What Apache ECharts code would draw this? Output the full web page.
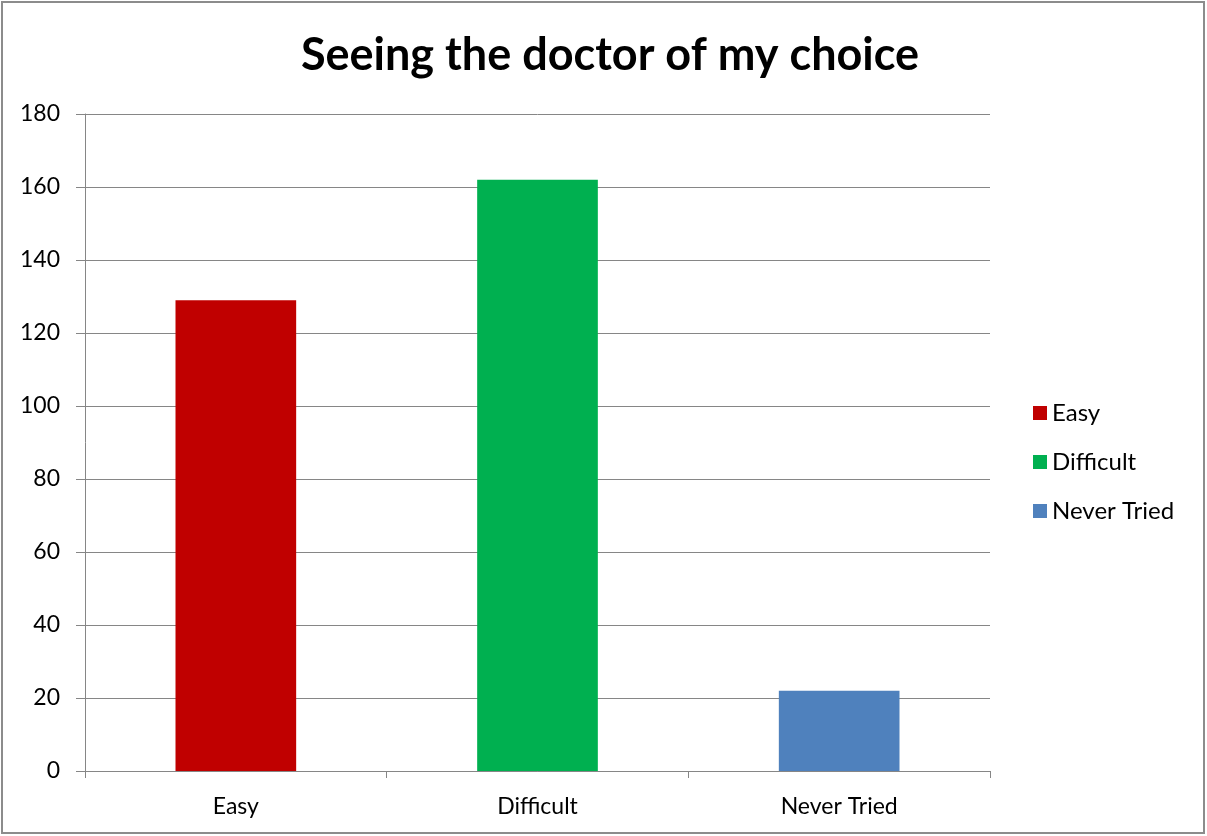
<!DOCTYPE html>
<html><head><meta charset="utf-8">
<script src="https://cdn.jsdelivr.net/npm/echarts@6/dist/echarts.min.js"></script>
<style>html,body{margin:0;padding:0;background:#fff}#c{width:1207px;height:836px}</style>
</head><body><div id="c"></div>
<script>
const categories = ['Easy', 'Difficult', 'Never Tried'];
const values = [129, 162, 22];
const colors = ['#C00000', '#00B050', '#4F81BD'];
const yTicks = [0, 20, 40, 60, 80, 100, 120, 140, 160, 180];

const chart = echarts.init(document.getElementById('c'));
const FONT = 'Lato, "Open Sans", sans-serif';
const series = categories.map((name, i) => ({
  name: name,
  type: 'bar',
  stack: 'all',
  barWidth: '40%',
  itemStyle: { color: colors[i] },
  data: categories.map((c, j) => j === i ? values[i] : '-')
}));
chart.setOption({
  animation: false,
  graphic: [{
    type: 'rect', shape: { x: 2, y: 2, width: 1202, height: 831 },
    style: { fill: 'none', stroke: '#8c8c8c', lineWidth: 2 }, silent: true
  }],
  title: {
    text: 'Seeing the doctor of my choice',
    left: 605, top: 28, textAlign: 'center',
    textStyle: { fontFamily: FONT, fontWeight: 'bold', fontSize: 45, color: '#000' }
  },
  legend: {
    orient: 'vertical', left: 1028, top: 396, itemGap: 25,
    itemWidth: 14, itemHeight: 14, icon: 'rect',
    data: categories,
    textStyle: { fontFamily: FONT, fontSize: 24, color: '#000' }
  },
  grid: { left: 85, right: 217, top: 114, bottom: 65 },
  xAxis: {
    type: 'category', data: categories,
    axisLine: { lineStyle: { color: '#868686', width: 1 } },
    axisTick: { show: true, length: 7, lineStyle: { color: '#868686' } },
    axisLabel: { fontFamily: FONT, fontSize: 23, color: '#000', margin: 24 }
  },
  yAxis: {
    type: 'value', min: yTicks[0], max: yTicks[yTicks.length - 1], interval: 20,
    axisLine: { show: true, lineStyle: { color: '#868686', width: 1 } },
    axisTick: { show: true, length: 9, lineStyle: { color: '#868686' } },
    splitLine: { lineStyle: { color: '#868686', width: 1 } },
    axisLabel: { fontFamily: FONT, fontSize: 23, color: '#000', margin: 25 }
  },
  series: series
});
</script></body></html>
